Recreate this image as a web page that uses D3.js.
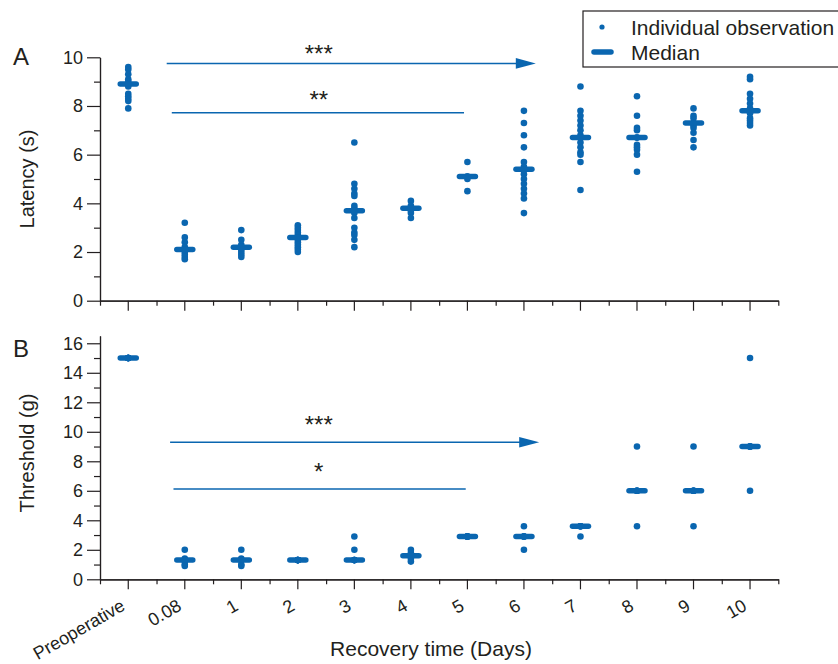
<!DOCTYPE html>
<html>
<head>
<meta charset="utf-8">
<script src="https://cdn.jsdelivr.net/npm/d3@7"></script>
<style>
  body { margin: 0; background: #fff; }
  svg text { font-family: "Liberation Sans", Arial, sans-serif; fill: #231f20; }
</style>
</head>
<body>
<svg id="chart" width="838" height="664"></svg>
<script>
// recovery time categories
const categories = ['Preoperative', '0.08', '1', '2', '3', '4', '5', '6', '7', '8', '9', '10'];

// panel A: latency (s), individual observations per category
const latencyObs = [
    [9.6, 9.5, 9.3, 9.1, 9.0, 8.9, 8.9, 8.8, 8.5, 8.4, 8.3, 8.2, 7.9],
    [3.2, 2.6, 2.4, 2.2, 2.1, 2.1, 2.0, 1.9, 1.8, 1.7],
    [2.9, 2.5, 2.3, 2.2, 2.2, 2.1, 2.0, 1.9, 1.8],
    [3.1, 3.0, 2.9, 2.8, 2.7, 2.6, 2.6, 2.5, 2.4, 2.3, 2.2, 2.1, 2.0],
    [6.5, 4.8, 4.6, 4.4, 4.3, 3.9, 3.8, 3.7, 3.7, 3.6, 3.4, 3.0, 2.8, 2.7, 2.5, 2.2],
    [4.1, 3.9, 3.8, 3.8, 3.7, 3.6, 3.4],
    [5.7, 5.1, 5.1, 5.0, 4.5],
    [7.8, 7.3, 6.8, 6.3, 5.7, 5.5, 5.4, 5.4, 5.2, 5.0, 4.8, 4.6, 4.4, 4.2, 3.6],
    [8.8, 7.8, 7.6, 7.4, 7.2, 7.0, 6.8, 6.7, 6.7, 6.5, 6.3, 6.1, 6.0, 5.7, 4.55],
    [8.4, 7.6, 7.1, 7.0, 6.7, 6.7, 6.4, 6.3, 6.2, 6.0, 5.3],
    [7.9, 7.6, 7.5, 7.3, 7.3, 7.2, 7.1, 6.9, 6.6, 6.3],
    [9.2, 9.1, 8.5, 8.3, 8.1, 7.9, 7.8, 7.8, 7.7, 7.5, 7.4, 7.3, 7.2]
];
const latencyMedian = [8.9, 2.1, 2.2, 2.6, 3.7, 3.8, 5.1, 5.4, 6.7, 6.7, 7.3, 7.8];
const latencyTicks = [0, 2, 4, 6, 8, 10];

// panel B: threshold (g)
const thresholdObs = [
    [15, 15, 15, 15, 15, 15, 15, 15],
    [2.0, 1.4, 1.3, 1.3, 1.3, 1.2, 1.0, 0.9],
    [2.0, 1.4, 1.3, 1.3, 1.3, 1.0, 0.9],
    [1.3, 1.3, 1.3, 1.3, 1.3, 1.3],
    [2.9, 2.0, 1.3, 1.3, 1.3, 1.3],
    [2.0, 1.8, 1.6, 1.6, 1.4, 1.2],
    [2.9, 2.9, 2.9, 2.9, 2.9, 2.9],
    [3.6, 2.9, 2.9, 2.9, 2.9, 2.0],
    [3.6, 3.6, 3.6, 3.6, 2.9],
    [9, 6, 6, 6, 6, 3.6],
    [9, 6, 6, 6, 6, 3.6],
    [15, 9, 9, 9, 9, 6]
];
const thresholdMedian = [15, 1.3, 1.3, 1.3, 1.3, 1.6, 2.9, 2.9, 3.6, 6, 6, 9];
const thresholdTicks = [0, 2, 4, 6, 8, 10, 12, 14, 16];

// significance comparisons (x in category index units, y in data units)
const latencyComparisons = [
    { label: '***', from: 0.68, to: 7.21, at: 9.75, labelAt: 10.37, arrow: true },
    { label: '**', from: 0.77, to: 5.94, at: 7.72, labelAt: 8.47, arrow: false }
];
const thresholdComparisons = [
    { label: '***', from: 0.74, to: 7.27, at: 9.29, labelAt: 10.85, arrow: true },
    { label: '*', from: 0.80, to: 5.97, at: 6.12, labelAt: 7.68, arrow: false }
];
const labelIndex = 3.37;

const blue = '#0a66b0';
const ink = '#231f20';

let svg = d3.select('#chart');

let xBand = d3.scaleBand().domain(categories).range([100, 778.3]);
let xIdx = d3.scaleLinear().domain([-0.5, categories.length - 0.5]).range([100, 778.3]);
let edges = d3.range(categories.length + 1).map(i => i - 0.5);

function styleAxis(g) {
    g.select('.domain').attr('stroke', ink).attr('stroke-width', 1.2);
    g.selectAll('.tick line').attr('stroke', ink).attr('stroke-width', 1.2);
    g.selectAll('.tick text').attr('fill', ink).style('font-size', '18px');
}

function drawPanel(p) {
    let y = d3.scaleLinear().domain(p.domain).range(p.range);
    let chart = svg.append('g');
    let y0 = p.range[0];

    // y axis: major labelled + minor
    let minor = d3.range(p.domain[0], Math.floor(p.domain[1]) + 1).filter(v => p.ticks.indexOf(v) < 0);
    chart.append('g').attr('transform', 'translate(100,0)')
        .call(d3.axisLeft(y).tickValues(p.ticks).tickSize(13).tickSizeOuter(0).tickPadding(4))
        .call(styleAxis);
    chart.append('g').attr('transform', 'translate(100,0)')
        .call(d3.axisLeft(y).tickValues(minor).tickSize(6).tickSizeOuter(0).tickFormat(''))
        .call(styleAxis);

    // x axis: major at categories, minor at band edges
    let xAxis = chart.append('g').attr('transform', 'translate(0,' + y0 + ')')
        .call(d3.axisBottom(xBand).tickSize(10).tickSizeOuter(0))
        .call(styleAxis);
    chart.append('g').attr('transform', 'translate(0,' + y0 + ')')
        .call(d3.axisBottom(xIdx).tickValues(edges).tickSize(5).tickSizeOuter(0).tickFormat(''))
        .call(styleAxis);

    if (p.xLabels) {
        xAxis.selectAll('.tick text')
            .attr('x', 0).attr('y', 0).attr('dy', 0)
            .attr('text-anchor', 'end')
            .style('font-size', '18px')
            .attr('transform', 'translate(-2,30) rotate(-30)');
    } else {
        xAxis.selectAll('.tick text').remove();
    }

    // observations
    p.obs.forEach((vals, i) => {
        let cx = xBand(categories[i]) + xBand.bandwidth() / 2;
        chart.selectAll(null).data(vals).enter().append('circle')
            .attr('cx', cx)
            .attr('cy', d => y(d))
            .attr('r', 3.3)
            .attr('fill', blue);
    });

    // medians
    chart.selectAll('line.median').data(p.medians).enter().append('line')
        .attr('class', 'median')
        .attr('x1', (d, i) => xBand(categories[i]) + xBand.bandwidth() / 2 - 8)
        .attr('x2', (d, i) => xBand(categories[i]) + xBand.bandwidth() / 2 + 8)
        .attr('y1', d => y(d))
        .attr('y2', d => y(d))
        .attr('stroke', blue)
        .attr('stroke-width', 5.5)
        .attr('stroke-linecap', 'round');

    // comparisons
    p.comparisons.forEach(c => {
        let yy = y(c.at);
        let x1 = xIdx(c.from), x2 = xIdx(c.to);
        chart.append('line')
            .attr('x1', x1).attr('x2', c.arrow ? x2 - 18 : x2)
            .attr('y1', yy).attr('y2', yy)
            .attr('stroke', blue).attr('stroke-width', 1.5);
        if (c.arrow) {
            chart.append('path')
                .attr('d', 'M' + x2 + ',' + yy + 'L' + (x2 - 20) + ',' + (yy - 5.3) + 'L' + (x2 - 20) + ',' + (yy + 5.3) + 'Z')
                .attr('fill', blue);
        }
        chart.append('text')
            .attr('x', xIdx(labelIndex))
            .attr('y', y(c.labelAt) + 13.8)
            .attr('text-anchor', 'middle')
            .style('font-size', '24px')
            .text(c.label);
    });

    // panel letter and y title
    svg.append('text').attr('x', 13).attr('y', p.letterY)
        .style('font-size', '24px').text(p.letter);
    svg.append('text')
        .attr('transform', 'translate(34,' + p.titleY + ') rotate(-90)')
        .attr('text-anchor', 'middle')
        .style('font-size', '20px')
        .text(p.title);
}

drawPanel({
    domain: [0, 10], range: [300.7, 57.3], ticks: latencyTicks,
    obs: latencyObs, medians: latencyMedian, comparisons: latencyComparisons,
    letter: 'A', letterY: 65, title: 'Latency (s)', titleY: 179, xLabels: false
});

drawPanel({
    domain: [0, 16.5], range: [579.3, 335.9], ticks: thresholdTicks,
    obs: thresholdObs, medians: thresholdMedian, comparisons: thresholdComparisons,
    letter: 'B', letterY: 357, title: 'Threshold (g)', titleY: 453, xLabels: true
});

svg.append('text')
    .attr('x', 431).attr('y', 656)
    .attr('text-anchor', 'middle')
    .style('font-size', '21px')
    .text('Recovery time (Days)');

// legend
let legend = svg.append('g');
legend.append('rect')
    .attr('x', 583).attr('y', 11).attr('width', 270).attr('height', 56)
    .attr('fill', '#fff').attr('stroke', ink).attr('stroke-width', 1.2);
legend.append('circle').attr('cx', 602).attr('cy', 27).attr('r', 2.6).attr('fill', blue);
legend.append('line')
    .attr('x1', 594).attr('x2', 611).attr('y1', 52).attr('y2', 52)
    .attr('stroke', blue).attr('stroke-width', 5.5).attr('stroke-linecap', 'round');
legend.append('text').attr('x', 631).attr('y', 35).style('font-size', '21px').text('Individual observation');
legend.append('text').attr('x', 631).attr('y', 60).style('font-size', '21px').text('Median');
</script>
</body>
</html>
